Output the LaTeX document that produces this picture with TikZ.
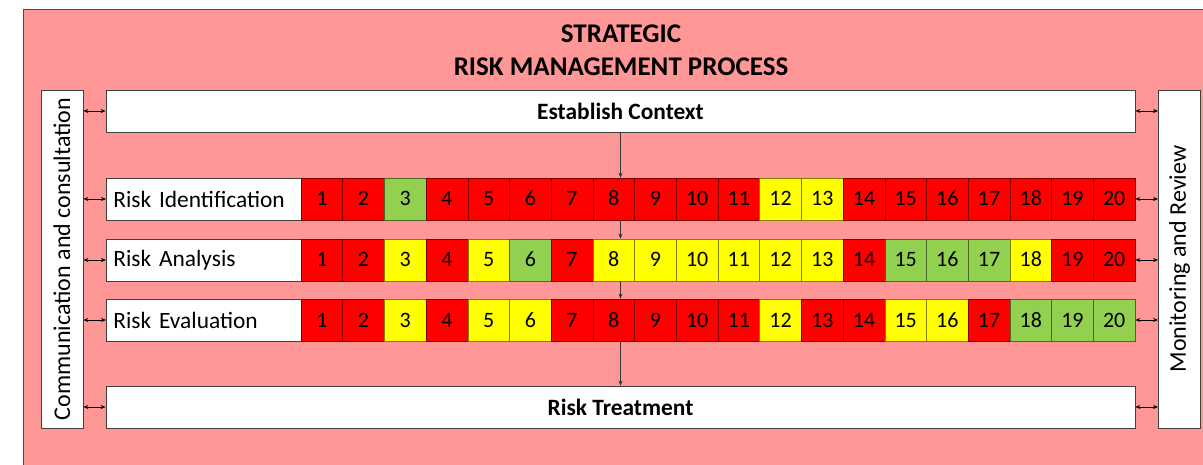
\documentclass[tikz,border=0pt]{standalone}
\usepackage{fontspec}
\setmainfont{Carlito}
\usetikzlibrary{arrows.meta, positioning}
\definecolor{pinkbg}{HTML}{FF9797}
\definecolor{hi}{HTML}{FF0000}
\definecolor{mid}{HTML}{FFFF00}
\definecolor{low}{HTML}{92D050}

\begin{document}
\begin{tikzpicture}[
  x=1pt, y=-1pt,
  frame/.style={draw=black!75, fill=white, line width=0.8pt, inner sep=0pt},
  stage/.style={frame, minimum width=1029pt, minimum height=42pt, font=\fontsize{23.4}{27}\selectfont\bfseries},
  rowlabel/.style={frame, anchor=west, minimum height=42pt, inner xsep=7pt, text width=181pt, align=left, font=\fontsize{23.4}{27}\selectfont},
  side/.style={frame, rotate=90, minimum width=338pt, minimum height=42pt, font=\fontsize{24}{28}\selectfont},
  cell/.style={draw=#1!50!black, fill=#1, line width=0.6pt, minimum width=41.7pt, minimum height=42pt, inner sep=0pt, text height=14pt, text depth=0pt, font=\fontsize{22}{26}\selectfont},
  link/.style={{Stealth[length=5pt,width=4pt]}-{Stealth[length=5pt,width=4pt]}, line width=0.7pt},
  flow/.style={-{Stealth[length=5pt,width=4pt]}, line width=0.7pt, draw=black!80}
]
\useasboundingbox (0,0) rectangle (1203,465);
\clip (0,0) rectangle (1203,465);
\fill[white] (0,0) rectangle (1203,465);
\draw[fill=pinkbg, draw=black!70, line width=0.8pt] (23,9) rectangle (1220,480);

\node[align=center, font=\fontsize{27}{33}\selectfont\bfseries] (title) at (621,50) {STRATEGIC\\RISK MANAGEMENT PROCESS};

% stages across the full width
\node[stage] (ctx) at (620.5,111) {Establish Context};
\node[stage] (treat) at (620.5,407) {Risk Treatment};

% side bars (rotated: south is the right edge, north the left edge)
\node[side] (comm) at (62,259) {Communication and consultation};
\node[side] (mon) at (1179.5,259) {Monitoring and Review};

% assessment rows
\node[rowlabel] (idf) at (106,199) {Risk Identification};
\node[rowlabel] (ana) at (106,260) {Risk Analysis};
\node[rowlabel] (eva) at (106,320) {Risk Evaluation};

\foreach \c [count=\i] in {hi,hi,low,hi,hi,hi,hi,hi,hi,hi,hi,mid,mid,hi,hi,hi,hi,hi,hi,hi}
  \node[cell=\c] (idf-\i) at ({301+(\i-0.5)*41.7},199) {\i};
\foreach \c [count=\i] in {hi,hi,mid,hi,mid,low,hi,mid,mid,mid,mid,mid,mid,hi,low,low,low,mid,hi,hi}
  \node[cell=\c] (ana-\i) at ({301+(\i-0.5)*41.7},260) {\i};
\foreach \c [count=\i] in {hi,hi,mid,hi,mid,mid,hi,hi,hi,hi,hi,mid,hi,hi,mid,mid,hi,low,low,low}
  \node[cell=\c] (eva-\i) at ({301+(\i-0.5)*41.7},320) {\i};

% links to the side bars
\foreach \a/\b in {ctx/ctx, idf/idf-20, ana/ana-20, eva/eva-20, treat/treat} {
  \draw[link] (comm.south |- \a.west) -- (\a.west);
  \draw[link] (\b.east) -- (mon.north |- \b.east);
}

% main flow
\draw[flow] (ctx.south) -- (ctx.south |- idf-1.north);
\draw[flow] (ctx.south |- idf-1.south) -- (ctx.south |- ana-1.north);
\draw[flow] (ctx.south |- ana-1.south) -- (ctx.south |- eva-1.north);
\draw[flow] (ctx.south |- eva-1.south) -- (treat.north);
\end{tikzpicture}
\end{document}
